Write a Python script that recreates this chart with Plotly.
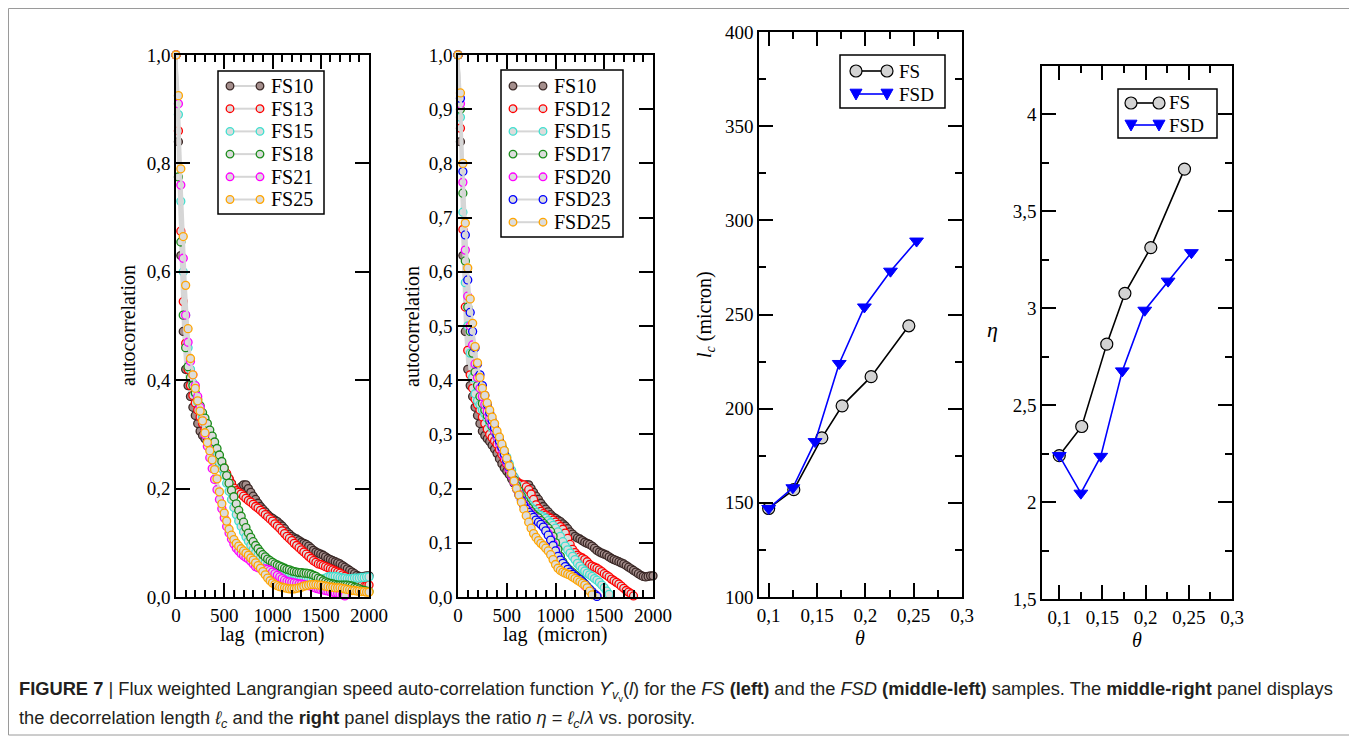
import plotly.graph_objects as go

# ---------------- data ----------------
LAG_STEP = 25  # micron, sampling of the lag axis

# left panel (FS samples)
FS10 = [1.0, 0.84, 0.63, 0.49, 0.42, 0.39, 0.37, 0.35, 0.335, 0.32,
        0.306, 0.298, 0.292, 0.287, 0.28, 0.273, 0.265, 0.255, 0.246, 0.238,
        0.232, 0.226, 0.218, 0.21, 0.2, 0.195, 0.197, 0.203, 0.207, 0.207,
        0.2, 0.193, 0.186, 0.18, 0.173, 0.167, 0.162, 0.157, 0.152, 0.148,
        0.145, 0.142, 0.139, 0.135, 0.131, 0.126, 0.12, 0.116, 0.112, 0.109,
        0.107, 0.104, 0.101, 0.099, 0.097, 0.094, 0.09, 0.086, 0.083, 0.081,
        0.079, 0.077, 0.074, 0.071, 0.069, 0.067, 0.065, 0.063, 0.061, 0.058,
        0.055, 0.052, 0.049, 0.046, 0.043, 0.04, 0.038, 0.037, 0.038, 0.039,
        0.039]
FS13 = [1.0, 0.86, 0.675, 0.545, 0.468, 0.42, 0.39, 0.372, 0.358, 0.345,
        0.332, 0.32, 0.31, 0.3, 0.29, 0.28, 0.27, 0.262, 0.254, 0.246,
        0.238, 0.228, 0.218, 0.209, 0.201, 0.196, 0.193, 0.19, 0.186, 0.182,
        0.178, 0.175, 0.171, 0.167, 0.164, 0.16, 0.156, 0.152, 0.148, 0.144,
        0.14, 0.135, 0.131, 0.127, 0.122, 0.117, 0.112, 0.108, 0.104, 0.099,
        0.095, 0.091, 0.087, 0.083, 0.079, 0.075, 0.071, 0.067, 0.064, 0.061,
        0.06, 0.058, 0.056, 0.054, 0.052, 0.05, 0.048, 0.046, 0.044, 0.041,
        0.038, 0.035, 0.033, 0.03, 0.028, 0.026, 0.024, 0.021, 0.019, 0.02,
        0.022]
FS15 = [1.0, 0.89, 0.73, 0.6, 0.52, 0.46, 0.42, 0.395, 0.375, 0.36,
        0.345, 0.332, 0.32, 0.308, 0.296, 0.284, 0.272, 0.26, 0.248, 0.237,
        0.225, 0.21, 0.195, 0.18, 0.165, 0.152, 0.14, 0.13, 0.12, 0.111,
        0.103, 0.095, 0.088, 0.082, 0.077, 0.072, 0.068, 0.064, 0.061, 0.058,
        0.056, 0.054, 0.052, 0.05, 0.049, 0.047, 0.046, 0.044, 0.043, 0.042,
        0.04, 0.039, 0.037, 0.036, 0.035, 0.034, 0.033, 0.032, 0.032, 0.032,
        0.032, 0.033, 0.035, 0.037, 0.038, 0.038, 0.038, 0.037, 0.036, 0.035,
        0.035, 0.034, 0.034, 0.034, 0.035, 0.035, 0.035, 0.036, 0.036, 0.037,
        0.037]
FS18 = [1.0, 0.775, 0.655, 0.52, 0.46, 0.425, 0.405, 0.39, 0.377, 0.365,
        0.353, 0.34, 0.33, 0.32, 0.308, 0.297, 0.286, 0.274, 0.262, 0.25,
        0.238, 0.224, 0.21, 0.197, 0.185, 0.172, 0.16, 0.149, 0.138, 0.128,
        0.118, 0.11, 0.102, 0.095, 0.089, 0.083, 0.078, 0.074, 0.07, 0.067,
        0.064, 0.061, 0.059, 0.057, 0.055, 0.053, 0.051, 0.05, 0.048, 0.047,
        0.046, 0.045, 0.045, 0.044, 0.044, 0.043, 0.042, 0.04, 0.038, 0.035,
        0.033, 0.03, 0.028, 0.026, 0.025, 0.024, 0.023, 0.022, 0.022, 0.022,
        0.022, 0.022, 0.021, 0.02, 0.018, 0.017, 0.015, 0.013, 0.012, 0.011,
        0.01]
FS21 = [1.0, 0.91, 0.76, 0.625, 0.52, 0.47, 0.435, 0.41, 0.39, 0.37,
        0.35, 0.325, 0.3, 0.278, 0.257, 0.237, 0.217, 0.198, 0.18, 0.163,
        0.146, 0.13, 0.118, 0.107, 0.098, 0.09, 0.085, 0.08, 0.076, 0.073,
        0.07, 0.066, 0.061, 0.056, 0.054, 0.053, 0.052, 0.052, 0.051, 0.049,
        0.046, 0.043, 0.04, 0.037, 0.034, 0.031, 0.029, 0.028, 0.027, 0.026,
        0.025, 0.024, 0.024, 0.023, 0.022, 0.021, 0.02, 0.018, 0.016, 0.015,
        0.014, 0.013, 0.012, 0.011, 0.01, 0.009, 0.008, 0.007, 0.005, 0.004,
        0.002]
FS25 = [1.0, 0.925, 0.79, 0.665, 0.575, 0.495, 0.44, 0.41, 0.385, 0.362,
        0.343, 0.325, 0.303, 0.285, 0.27, 0.253, 0.235, 0.218, 0.194, 0.172,
        0.155, 0.14, 0.125, 0.114, 0.106, 0.099, 0.094, 0.089, 0.085, 0.081,
        0.077, 0.072, 0.068, 0.063, 0.058, 0.053, 0.047, 0.041, 0.035, 0.03,
        0.026, 0.023, 0.021, 0.019, 0.018, 0.017, 0.016, 0.015, 0.015, 0.015,
        0.016, 0.017, 0.018, 0.02, 0.021, 0.022, 0.023, 0.023, 0.023, 0.022,
        0.022, 0.021, 0.02, 0.019, 0.018, 0.018, 0.017, 0.017, 0.017, 0.016,
        0.015, 0.014, 0.013, 0.012, 0.012, 0.011, 0.011, 0.01, 0.01, 0.009,
        0.009]

# middle-left panel (FSD samples)
FSD12 = [1.0, 0.865, 0.678, 0.535, 0.455, 0.41, 0.385, 0.365, 0.355, 0.345,
         0.332, 0.32, 0.31, 0.3, 0.294, 0.288, 0.282, 0.272, 0.263, 0.254,
         0.245, 0.236, 0.228, 0.22, 0.214, 0.21, 0.208, 0.207, 0.203, 0.198,
         0.19, 0.18, 0.17, 0.163, 0.158, 0.154, 0.151, 0.148, 0.145, 0.142,
         0.138, 0.134, 0.13, 0.125, 0.118, 0.108, 0.097, 0.088, 0.082, 0.077,
         0.074, 0.072, 0.069, 0.065, 0.06, 0.057, 0.055, 0.053, 0.05, 0.047,
         0.043, 0.04, 0.037, 0.033, 0.03, 0.027, 0.024, 0.02, 0.016, 0.012,
         0.009, 0.006, 0.002]
FSD15 = [1.0, 0.885, 0.71, 0.58, 0.5, 0.45, 0.405, 0.375, 0.362, 0.355,
         0.345, 0.338, 0.33, 0.32, 0.312, 0.305, 0.298, 0.29, 0.28, 0.27,
         0.258, 0.246, 0.234, 0.222, 0.208, 0.196, 0.188, 0.181, 0.175, 0.17,
         0.165, 0.161, 0.156, 0.152, 0.15, 0.148, 0.145, 0.141, 0.137, 0.132,
         0.127, 0.12, 0.112, 0.102, 0.094, 0.087, 0.081, 0.075, 0.069, 0.062,
         0.057, 0.052, 0.048, 0.044, 0.041, 0.038, 0.034, 0.031, 0.027, 0.022,
         0.017, 0.011, 0.005]
FSD17 = [1.0, 0.9, 0.745, 0.62, 0.535, 0.49, 0.45, 0.415, 0.39, 0.37,
         0.357, 0.345, 0.335, 0.325, 0.315, 0.305, 0.295, 0.287, 0.276, 0.263,
         0.25, 0.24, 0.228, 0.216, 0.205, 0.196, 0.186, 0.177, 0.17, 0.164,
         0.158, 0.153, 0.149, 0.146, 0.141, 0.136, 0.131, 0.127, 0.121, 0.112,
         0.1, 0.088, 0.075, 0.065, 0.058, 0.053, 0.049, 0.045, 0.041, 0.037,
         0.033, 0.029, 0.024, 0.019, 0.014, 0.01, 0.005, 0.002]
FSD20 = [1.0, 0.91, 0.765, 0.64, 0.555, 0.5, 0.465, 0.43, 0.405, 0.385,
         0.37, 0.355, 0.342, 0.33, 0.318, 0.306, 0.295, 0.283, 0.272, 0.26,
         0.248, 0.236, 0.224, 0.212, 0.2, 0.19, 0.18, 0.171, 0.164, 0.158,
         0.153, 0.148, 0.143, 0.139, 0.135, 0.13, 0.124, 0.117, 0.108, 0.098,
         0.087, 0.076, 0.067, 0.06, 0.054, 0.05, 0.046, 0.042, 0.038, 0.034,
         0.03, 0.026, 0.021, 0.017, 0.013, 0.009, 0.005, 0.002]
FSD23 = [1.0, 0.92, 0.785, 0.668, 0.585, 0.525, 0.49, 0.46, 0.43, 0.41,
         0.39, 0.372, 0.355, 0.34, 0.326, 0.312, 0.3, 0.288, 0.276, 0.264,
         0.252, 0.24, 0.227, 0.214, 0.2, 0.188, 0.178, 0.169, 0.162, 0.156,
         0.151, 0.147, 0.142, 0.138, 0.134, 0.129, 0.122, 0.114, 0.105, 0.095,
         0.085, 0.075, 0.068, 0.062, 0.056, 0.051, 0.046, 0.042, 0.038, 0.035,
         0.032, 0.028, 0.024, 0.019, 0.014, 0.009, 0.005, 0.001]
FSD25 = [1.0, 0.93, 0.8, 0.69, 0.607, 0.55, 0.505, 0.462, 0.432, 0.405,
         0.385, 0.372, 0.358, 0.345, 0.332, 0.32, 0.306, 0.295, 0.282, 0.27,
         0.256, 0.242, 0.228, 0.214, 0.2, 0.188, 0.175, 0.162, 0.15, 0.138,
         0.127, 0.117, 0.11, 0.104, 0.099, 0.095, 0.09, 0.085, 0.078, 0.069,
         0.06, 0.053, 0.049, 0.046, 0.044, 0.042, 0.04, 0.037, 0.034, 0.031,
         0.028, 0.025, 0.022, 0.017, 0.011, 0.004]

# middle-right / right panels
theta_FS = [0.1, 0.126, 0.155, 0.176, 0.206, 0.245]
lc_FS = [147, 157, 184.5, 201.5, 217, 244]
eta_FS = [2.24, 2.39, 2.815, 3.077, 3.313, 3.718]
theta_FSD = [0.1, 0.125, 0.148, 0.173, 0.199, 0.226, 0.253]
lc_FSD = [147, 158, 182.5, 224, 254, 273, 289]
eta_FSD = [2.24, 2.046, 2.236, 2.677, 2.99, 3.14, 3.287]

left_series = [("FS10", FS10, "#3a2826", "#a48e8c"),
               ("FS13", FS13, "#ff0000", "#dcdcdc"),
               ("FS15", FS15, "#40e0d0", "#dcdcdc"),
               ("FS18", FS18, "#1a8c1a", "#dcdcdc"),
               ("FS21", FS21, "#ff00ff", "#dcdcdc"),
               ("FS25", FS25, "#ffa500", "#dcdcdc")]
mid_series = [("FS10", FS10, "#3a2826", "#a48e8c"),
              ("FSD12", FSD12, "#ff0000", "#dcdcdc"),
              ("FSD15", FSD15, "#40e0d0", "#dcdcdc"),
              ("FSD17", FSD17, "#1a8c1a", "#dcdcdc"),
              ("FSD20", FSD20, "#ff00ff", "#dcdcdc"),
              ("FSD23", FSD23, "#0000ff", "#dcdcdc"),
              ("FSD25", FSD25, "#ffa500", "#dcdcdc")]

# the page body adds an 8 px margin: lay out in page pixels, then convert
OX, OY = 8, 8
W, H = 1357 - OX, 740 - OY
SERIF = "Liberation Serif"


def fx(x):
    return (x - OX) / W


def fy(y):
    return 1 - (y - OY) / H


def px(x0, x1):
    return [fx(x0), fx(x1)]


def py(y_top, y_bot):
    return [fy(y_bot), fy(y_top)]


fig = go.Figure()


def add_acf(series, xa, ya):
    for name, vals, edge, fill in series:
        lag = [LAG_STEP * i for i in range(len(vals))]
        fig.add_trace(go.Scatter(
            x=lag, y=vals, name=name, mode="lines+markers",
            xaxis=xa, yaxis=ya, cliponaxis=False, showlegend=False,
            line=dict(color="#d6d6d6", width=2.5),
            marker=dict(symbol="circle", size=8, color=fill,
                        line=dict(color=edge, width=1.3))))


add_acf(left_series, "x", "y")
add_acf(mid_series, "x2", "y2")

for xa, ya, yFS, yFSD in [("x3", "y3", lc_FS, lc_FSD),
                          ("x4", "y4", eta_FS, eta_FSD)]:
    fig.add_trace(go.Scatter(
        x=theta_FS, y=yFS, name="FS", mode="lines+markers", xaxis=xa, yaxis=ya,
        cliponaxis=False, showlegend=False, line=dict(color="black", width=1.6),
        marker=dict(symbol="circle", size=12, color="#d3d3d3",
                    line=dict(color="black", width=1.2))))
    fig.add_trace(go.Scatter(
        x=theta_FSD, y=yFSD, name="FSD", mode="lines+markers", xaxis=xa, yaxis=ya,
        cliponaxis=False, showlegend=False, line=dict(color="#0000ff", width=1.6),
        marker=dict(symbol="triangle-down", size=12, color="#0000ff",
                    line=dict(color="#0000ff", width=1))))

base = dict(showline=True, linecolor="black", linewidth=1.6, mirror="ticks",
            ticks="inside", ticklen=14, tickwidth=1.5, tickcolor="black",
            showgrid=False, zeroline=False, automargin=False,
            tickfont=dict(family=SERIF, size=19, color="black"))


def minor(d, t0=0):
    return dict(ticks="inside", ticklen=7, tickwidth=1.5, tickcolor="black",
                dtick=d, tick0=t0, showgrid=False)


fig.update_layout(
    width=W, height=H, margin=dict(l=0, r=0, t=0, b=0, autoexpand=False),
    paper_bgcolor="white", plot_bgcolor="white", separators=",.",
    showlegend=False,
    xaxis=dict(base, domain=px(176, 369), range=[0, 2000], tick0=0, dtick=500,
               tickformat="d", minor=minor(100), anchor="y"),
    yaxis=dict(base, domain=py(55, 597), range=[0, 1.0], tick0=0, dtick=0.2,
               tickformat=".1f", anchor="x"),
    xaxis2=dict(base, domain=px(458, 653), range=[0, 2000], tick0=0, dtick=500,
                tickformat="d", minor=minor(100), anchor="y2"),
    yaxis2=dict(base, domain=py(55, 597), range=[0, 1.0], tick0=0, dtick=0.1,
                tickformat=".1f", anchor="x2"),
    xaxis3=dict(base, domain=px(759, 962), range=[0.09, 0.3], tick0=0.1, dtick=0.05,
                tickformat=".2~f", minor=minor(0.025, 0.1), anchor="y3"),
    yaxis3=dict(base, domain=py(32, 597), range=[100, 400], tick0=100, dtick=50,
                tickformat="d", minor=minor(25, 100), anchor="x3"),
    xaxis4=dict(base, domain=px(1042, 1232), range=[0.08, 0.3], tick0=0.1, dtick=0.05,
                tickformat=".2~f", minor=minor(0.025, 0.1), anchor="y4"),
    yaxis4=dict(base, domain=py(66, 599), range=[1.5, 4.25], tick0=1.5, dtick=0.5,
                tickformat=".1~f", minor=minor(0.25, 1.5), anchor="x4"),
)


def ann(text, x, y, angle=0, size=20, family=SERIF, xanchor="center", yanchor="middle", color="black"):
    fig.add_annotation(text=text, x=fx(x), y=fy(y), xref="paper", yref="paper",
                       showarrow=False, textangle=angle, xanchor=xanchor, yanchor=yanchor,
                       font=dict(family=family, size=size, color=color))


# ---------- legends (xmgrace style: line with a symbol at each end) ----------
def rect(x0, y0, x1, y1, color="black", width=1.5, fill=None):
    fig.add_shape(type="rect", xref="paper", yref="paper", x0=fx(x0), x1=fx(x1),
                  y0=fy(y1), y1=fy(y0), line=dict(color=color, width=width),
                  fillcolor=fill if fill else "rgba(0,0,0,0)", layer="above")


def seg(x0, x1, y, color, width):
    fig.add_shape(type="line", xref="paper", yref="paper", x0=fx(x0), x1=fx(x1),
                  y0=fy(y), y1=fy(y), line=dict(color=color, width=width), layer="above")


def circ(cx, cy, r, edge, fill, width=1.3):
    fig.add_shape(type="circle", xref="paper", yref="paper", x0=fx(cx - r), x1=fx(cx + r),
                  y0=fy(cy + r), y1=fy(cy - r), line=dict(color=edge, width=width),
                  fillcolor=fill, layer="above")


def tri_down(cx, cy, r, color):
    pts = [(cx - r, cy - 0.8 * r), (cx + r, cy - 0.8 * r), (cx, cy + r)]
    path = "M " + " L ".join(f"{fx(a):.5f},{fy(b):.5f}" for a, b in pts) + " Z"
    fig.add_shape(type="path", xref="paper", yref="paper", path=path,
                  line=dict(color=color, width=1), fillcolor=color, layer="above")


def acf_legend(series, box, x_a, x_b, x_text, y0, dy):
    rect(*box, fill="white")
    for i, (name, _, edge, fill) in enumerate(series):
        y = y0 + i * dy
        seg(x_a, x_b, y, "#d6d6d6", 2)
        circ(x_a, y, 3.8, edge, fill)
        circ(x_b, y, 3.8, edge, fill)
        ann(name, x_text, y, size=20, xanchor="left")


acf_legend(left_series, (218, 71, 324, 214), 230, 260, 269, 86, 22.7)
acf_legend(mid_series, (501, 70, 623, 237), 513, 543, 552, 86, 22.7)


def theta_legend(box, x_a, x_b, x_text, y_fs, y_fsd):
    rect(*box, fill="white")
    seg(x_a, x_b, y_fs, "black", 1.6)
    circ(x_a, y_fs, 6, "black", "#d3d3d3", 1.2)
    circ(x_b, y_fs, 6, "black", "#d3d3d3", 1.2)
    ann("FS", x_text, y_fs, size=19, xanchor="left")
    seg(x_a, x_b, y_fsd, "#0000ff", 1.6)
    tri_down(x_a, y_fsd, 6, "#0000ff")
    tri_down(x_b, y_fsd, 6, "#0000ff")
    ann("FSD", x_text, y_fsd, size=19, xanchor="left")


theta_legend((840, 55, 945, 108), 856, 887, 897, 71, 94)
theta_legend((1118, 89, 1217, 138), 1131, 1159, 1167, 103, 125)

# ---------- axis titles ----------
ann("autocorrelation", 128, 326, angle=-90)
ann("autocorrelation", 412, 326, angle=-90)
ann("lag  (micron)", 272, 634)
ann("lag  (micron)", 555, 634)
ann("<i>l</i><sub><i>c</i></sub> (micron)", 705, 315, angle=-90)
ann("<i>θ</i>", 860, 638)
ann("<i>θ</i>", 1137, 640)
ann("<i>η</i>", 993, 330, size=22)

# ---------- caption ----------
CAP = "Liberation Sans"
ann("<b>FIGURE 7</b> | Flux weighted Langrangian speed auto-correlation function "
    "<i>ϒ</i><sub><i>v</i><sub>v</sub></sub>(<i>l</i>) for the <i>FS</i> <b>(left)</b> and the "
    "<i>FSD</i> <b>(middle-left)</b> samples. The <b>middle-right</b> panel displays",
    17, 691, size=18.3, family=CAP, xanchor="left", color="#231f20")
ann("the decorrelation length <i>ℓ</i><sub><i>c</i></sub> and the <b>right</b> panel "
    "displays the ratio <i>η</i> = <i>ℓ</i><sub><i>c</i></sub>/<i>λ</i> vs. porosity.",
    17, 719, size=18.3, family=CAP, xanchor="left", color="#231f20")

fig.add_shape(type="rect", xref="paper", yref="paper", x0=fx(8.5), x1=fx(1352),
              y0=fy(735), y1=fy(8.5), line=dict(color="#9a9a9a", width=1))

fig.write_html("out.html")
